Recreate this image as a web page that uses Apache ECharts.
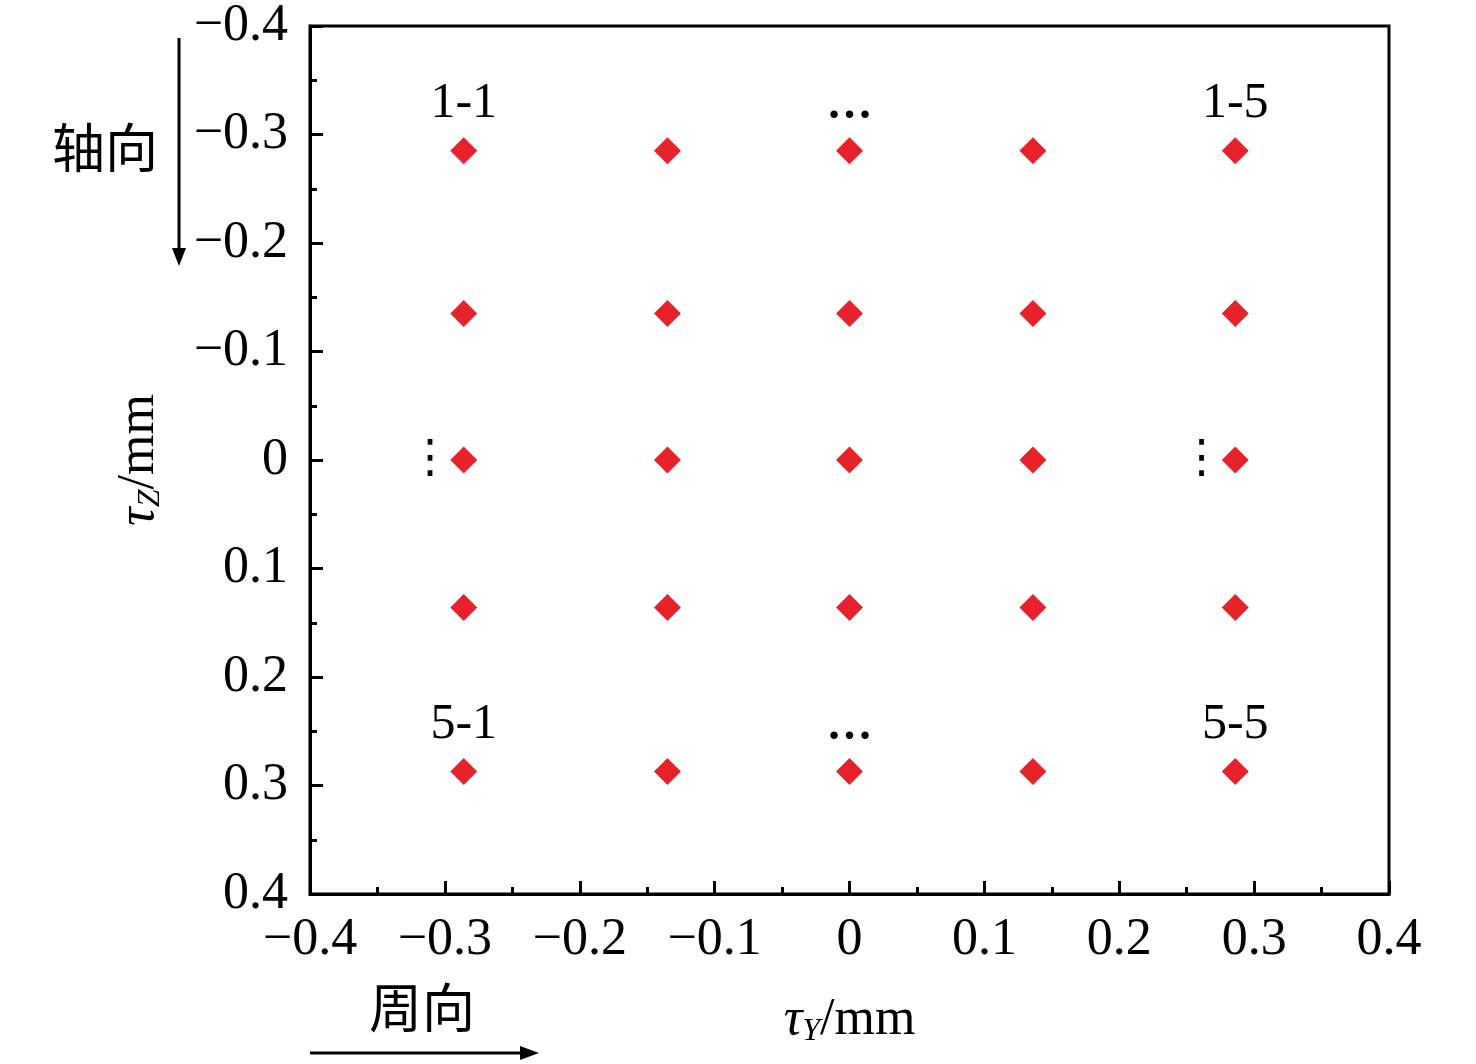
<!DOCTYPE html>
<html>
<head>
<meta charset="utf-8">
<script src="https://cdn.jsdelivr.net/npm/echarts@6/dist/echarts.min.js"></script>
<style>
html, body { margin: 0; padding: 0; background: #fff; }
#chart { width: 1476px; height: 1064px; }
</style>
</head>
<body>
<div id="chart"></div>
<script>
// measuring point positions (tauY columns, tauZ rows), mm
var colsY = [-0.286, -0.135, 0, 0.136, 0.286];
var rowsZ = [-0.285, -0.135, 0, 0.136, 0.287];

// annotations next to points: column index, row index, text, position
var annotCol = [0, 4, 0, 4, 2, 2, 0, 4];
var annotRow = [0, 0, 4, 4, 0, 4, 2, 2];
var annotText = ['1-1', '1-5', '5-1', '5-5', '…', '…', '⋮', '⋮'];
var annotPos = ['top', 'top', 'top', 'top', 'top', 'top', 'left', 'left'];

var axisTicks = [-0.4, 0.4, 0.1];

var font = '"Liberation Serif", "Times New Roman", serif';
var cjk = '"Noto Sans CJK SC", sans-serif';

function fmt(v) {
    if (Math.abs(v) < 1e-9) return '0';
    return (v < 0 ? '\u2212' : '') + Math.abs(v).toFixed(1);
}

var points = [];
rowsZ.forEach(function (z, r) {
    colsY.forEach(function (y, c) {
        var item = { value: [y, z] };
        for (var i = 0; i < annotText.length; i++) {
            if (annotCol[i] === c && annotRow[i] === r) {
                var t = annotText[i];
                var hdots = t === '…', vdots = t === '⋮';
                item.label = {
                    show: true,
                    formatter: t,
                    position: annotPos[i],
                    distance: hdots ? 8 : (vdots ? -3 : 8),
                    fontFamily: vdots ? '"DejaVu Sans", sans-serif' : font,
                    fontSize: hdots ? 46 : (vdots ? 46 : 50),
                    fontWeight: hdots ? 'bold' : 'normal',
                    color: '#000'
                };
            }
        }
        points.push(item);
    });
});

var axisCommon = {
    type: 'value',
    min: axisTicks[0],
    max: axisTicks[1],
    interval: axisTicks[2],
    splitLine: { show: false },
    axisLine: { show: true, onZero: false, lineStyle: { color: '#000', width: 3 } },
    axisTick: { show: true, inside: true, length: 13, lineStyle: { color: '#000', width: 3 } },
    minorTick: { show: true, splitNumber: 2, length: 7, lineStyle: { color: '#000', width: 3 } },
    axisLabel: { formatter: fmt, fontFamily: font, fontSize: 52, color: '#000' },
    nameLocation: 'middle',
    nameTextStyle: {
        color: '#000',
        fontFamily: font,
        fontSize: 52,
        rich: {
            i: { fontFamily: font, fontStyle: 'italic', fontSize: 52, color: '#000' },
            s: { fontFamily: font, fontStyle: 'italic', fontSize: 32, color: '#000', padding: [24, 0, 0, 0] },
            n: { fontFamily: font, fontSize: 52, color: '#000' }
        }
    }
};

var myChart = echarts.init(document.getElementById('chart'));
myChart.setOption({
    backgroundColor: '#fff',
    animation: false,
    grid: {
        left: 310, right: 87, top: 26, bottom: 170,
        show: true, borderColor: '#000', borderWidth: 3
    },
    xAxis: Object.assign({}, axisCommon, {
        name: '{i|τ}{s|Y}{n|/mm}',
        nameGap: 98,
        axisLabel: Object.assign({}, axisCommon.axisLabel, { margin: 20 })
    }),
    yAxis: Object.assign({}, axisCommon, {
        inverse: true,
        name: '{i|τ}{s|Z}{n|/mm}',
        nameGap: 143,
        axisLabel: Object.assign({}, axisCommon.axisLabel, { margin: 22, padding: [10, 0, 0, 0] })
    }),
    series: [
        {
            name: 'points',
            type: 'scatter',
            symbol: 'diamond',
            symbolSize: 27,
            itemStyle: { color: '#e8222a', opacity: 1 },
            data: points,
            z: 3
        }
    ],
    graphic: [
        // axial direction arrow
        { type: 'line', shape: { x1: 179, y1: 38, x2: 179, y2: 250 }, style: { stroke: '#000', lineWidth: 3 } },
        { type: 'polygon', shape: { points: [[172, 248], [186, 248], [179, 266]] }, style: { fill: '#000' } },
        { type: 'text', left: 52, top: 121, style: { text: '轴向', font: '53px ' + cjk, fill: '#000' } },
        // circumferential direction arrow
        { type: 'line', shape: { x1: 310, y1: 1053, x2: 522, y2: 1053 }, style: { stroke: '#000', lineWidth: 3 } },
        { type: 'polygon', shape: { points: [[520, 1046], [520, 1060], [539, 1053]] }, style: { fill: '#000' } },
        { type: 'text', left: 369, top: 981, style: { text: '周向', font: '53px ' + cjk, fill: '#000' } }
    ]
});
</script>
</body>
</html>
